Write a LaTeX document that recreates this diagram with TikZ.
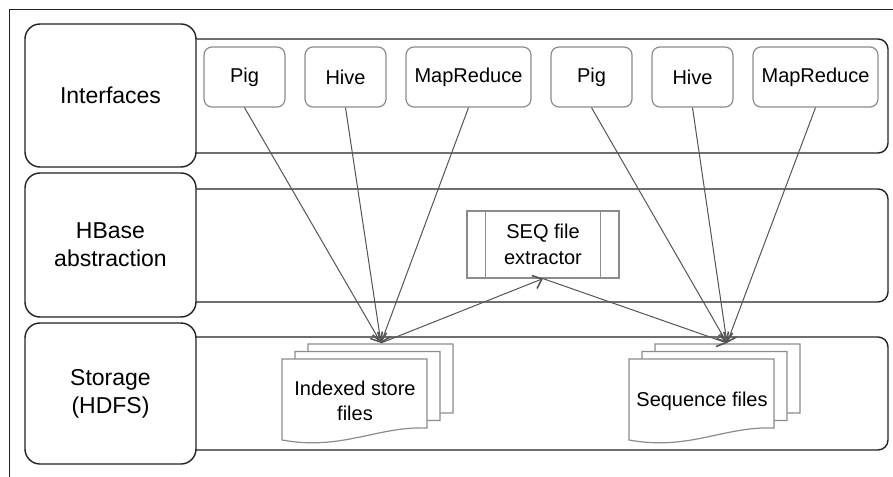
\documentclass[tikz,border=0pt]{standalone}
\usepackage{fontspec}
\setmainfont{Liberation Sans}
\usepackage{tikz}
\usetikzlibrary{arrows,arrows.meta,calc}
\definecolor{framegray}{HTML}{222222}
\definecolor{boxgray}{HTML}{8C8C8C}
\definecolor{linkgray}{HTML}{555555}
\tikzset{
  layer/.style={draw=framegray, line width=0.7pt, fill=white, rounded corners=7.5pt,
    minimum width=85.5pt, align=center, font=\fontsize{11.5}{14}\selectfont},
  lane/.style={draw=framegray, line width=0.7pt, rounded corners=5pt, minimum width=389pt},
  tool/.style={draw=boxgray, line width=0.6pt, fill=white, rounded corners=4pt,
    minimum height=30pt, font=\fontsize{10}{12.5}\selectfont},
  proc/.style={draw=boxgray, line width=0.6pt, fill=white, minimum width=76pt,
    minimum height=33.5pt, align=center, font=\fontsize{10}{13}\selectfont},
  sheet/.style={draw=boxgray, line width=0.6pt, fill=white},
  link/.style={draw=linkgray, line width=0.5pt, -{Straight Barb[length=4pt,width=7pt,line width=0.8pt]}}
}
\newcommand{\docsheet}[2]{%
  \path[sheet] (#1,#2) -- ++(145,0) -- ++(0,69)
    .. controls ($(#1,#2)+(95,67)$) and ($(#1,#2)+(60,92)$) .. ($(#1,#2)+(0,81)$) -- cycle;}

\begin{document}
\begin{tikzpicture}[x=0.5pt,y=-0.5pt]
\useasboundingbox (0,0) rectangle (893,476);
\draw[framegray, line width=0.7pt] (9.5,480) -- (9.5,9.5) -- (897,9.5);

\node[lane, minimum height=57pt] (ifacelane) at (499,96) {};
\node[lane, minimum height=56.5pt] (hbaselane) at (499,245.5) {};
\node[lane, minimum height=56.5pt] (storelane) at (499,393.5) {};

\node[layer, minimum height=71.5pt] (iface) at (110.5,95.5) {Interfaces};
\node[layer, minimum height=72pt] (hbase) at (110.5,245) {HBase\\abstraction};
\node[layer, minimum height=70.5pt] (store) at (110.5,393.5) {Storage\\(HDFS)};

\node[tool, minimum width=40.5pt] (pigA) at (244.5,77) {Pig};
\node[tool, minimum width=40.5pt] (hiveA) at (345.5,77) {Hive};
\node[tool, minimum width=62.5pt] (mrA) at (468.5,77) {MapReduce};
\node[tool, minimum width=40.5pt] (pigB) at (591.5,77) {Pig};
\node[tool, minimum width=40.5pt] (hiveB) at (692.5,77) {Hive};
\node[tool, minimum width=62.5pt] (mrB) at (815.5,77) {MapReduce};

\node[proc] (extr) at (543,244.5) {SEQ file\\extractor};
\draw[boxgray, line width=0.6pt] ([xshift=9.5pt]extr.north west) -- ([xshift=9.5pt]extr.south west);
\draw[boxgray, line width=0.6pt] ([xshift=-9.5pt]extr.north east) -- ([xshift=-9.5pt]extr.south east);

\foreach \i in {2,1,0} {
  \docsheet{282+13*\i}{359-7.5*\i}
  \docsheet{629+13*\i}{359-7.5*\i}
}
\node[align=center, font=\fontsize{10}{12.5}\selectfont] (idxtext) at (355,401) {Indexed store\\files};
\node[font=\fontsize{10}{12.5}\selectfont] (seqtext) at (702,401) {Sequence files};
\coordinate (idx) at (381,343);
\coordinate (seq) at (727,343);

\draw[link] (pigA.south) -- (idx);
\draw[link] (hiveA.south) -- (idx);
\draw[link] (mrA.south) -- (idx);
\draw[link] (pigB.south) -- (seq);
\draw[link] (hiveB.south) -- (seq);
\draw[link] (mrB.south) -- (seq);
\draw[link] (idx) -- (extr.south);
\draw[link] (extr.south) -- (seq);
\end{tikzpicture}
\end{document}
